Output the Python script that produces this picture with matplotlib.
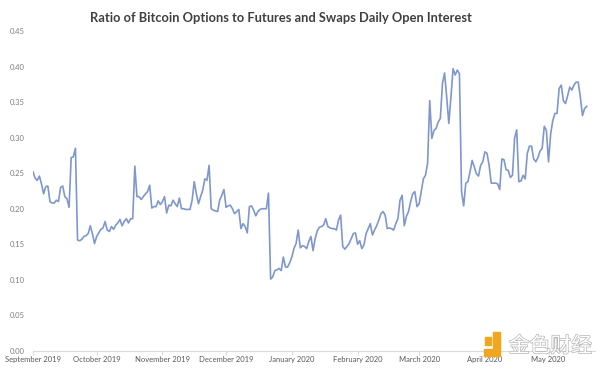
import matplotlib
matplotlib.use("Agg")
import matplotlib.pyplot as plt
import matplotlib.dates as mdates
import matplotlib.patheffects as pe
from matplotlib.patches import Rectangle, Polygon
import pandas as pd

# daily ratio (Sep 1 2019 onwards)
ratio_sep_nov = [
    0.252, 0.243, 0.240, 0.246, 0.235, 0.221, 0.231, 0.232, 0.210, 0.208,
    0.208, 0.212, 0.210, 0.230, 0.232, 0.217, 0.214, 0.202, 0.272, 0.273,
    0.285, 0.156, 0.155, 0.157, 0.161, 0.162, 0.165, 0.176, 0.165, 0.151,
    0.161, 0.166, 0.171, 0.173, 0.182, 0.170, 0.168, 0.175, 0.171, 0.177,
    0.180, 0.185, 0.176, 0.182, 0.186, 0.180, 0.186, 0.186, 0.260, 0.217,
    0.217, 0.213, 0.217, 0.221, 0.224, 0.233, 0.201, 0.203, 0.203, 0.211,
    0.206, 0.210, 0.217, 0.194, 0.205, 0.204, 0.212, 0.207, 0.203, 0.215,
    0.200, 0.200, 0.199, 0.199, 0.199, 0.212, 0.238, 0.221, 0.207,
]
ratio_nov_feb = [
    0.217, 0.226, 0.242, 0.240, 0.261, 0.200, 0.198, 0.197, 0.196, 0.212,
    0.219, 0.227, 0.202, 0.204, 0.205, 0.200, 0.193, 0.196, 0.199, 0.172,
    0.179, 0.175, 0.166, 0.203, 0.204, 0.198, 0.190, 0.196, 0.199, 0.200,
    0.200, 0.200, 0.222, 0.101, 0.104, 0.113, 0.114, 0.116, 0.113, 0.132,
    0.118, 0.118, 0.124, 0.132, 0.144, 0.151, 0.170, 0.145, 0.148, 0.147,
    0.144, 0.154, 0.161, 0.141, 0.158, 0.169, 0.174, 0.175, 0.177, 0.186,
    0.175, 0.173, 0.172, 0.172, 0.170, 0.184, 0.191, 0.147, 0.143, 0.147,
    0.151, 0.158, 0.165, 0.166, 0.150, 0.155, 0.144, 0.149, 0.165, 0.172,
    0.179, 0.163, 0.170, 0.176, 0.184, 0.193, 0.196, 0.191, 0.172, 0.173,
    0.172, 0.170, 0.179,
]
ratio_feb_may = [
    0.186, 0.212, 0.219, 0.176, 0.189, 0.196, 0.210, 0.221, 0.224, 0.203,
    0.207, 0.224, 0.242, 0.247, 0.264, 0.352, 0.299, 0.310, 0.313, 0.322,
    0.327, 0.376, 0.391, 0.357, 0.320, 0.357, 0.397, 0.388, 0.395, 0.390,
    0.224, 0.204, 0.236, 0.238, 0.252, 0.268, 0.259, 0.249, 0.246, 0.261,
    0.266, 0.280, 0.278, 0.261, 0.236, 0.236, 0.236, 0.235, 0.227, 0.270,
    0.269, 0.255, 0.254, 0.244, 0.247, 0.299, 0.311, 0.238, 0.239, 0.247,
    0.242, 0.278, 0.288, 0.288, 0.270, 0.266, 0.272, 0.281, 0.285, 0.316,
    0.310, 0.266, 0.305, 0.324, 0.334, 0.334, 0.369, 0.374, 0.352, 0.348,
    0.359, 0.371, 0.367, 0.374, 0.378, 0.378, 0.357, 0.331, 0.341, 0.344,
]
ratio = ratio_sep_nov + ratio_nov_feb + ratio_feb_may
dates = pd.date_range("2019-09-01", periods=len(ratio), freq="D")

y_ticks = [0.00, 0.05, 0.10, 0.15, 0.20, 0.25, 0.30, 0.35, 0.40, 0.45]
title = "Ratio of Bitcoin Options to Futures and Swaps Daily Open Interest"

plt.rcParams["font.family"] = ["Lato", "DejaVu Sans"]

fig = plt.figure(figsize=(6, 3.69), dpi=100)
ax = fig.add_axes([0.055, 0.049, 0.937, 0.867])

ax.plot(dates, ratio, color="#7F97CB", lw=1.2)

ax.set_ylim(0, 0.45)
ax.set_xlim(pd.Timestamp("2019-09-01"), pd.Timestamp("2020-05-23"))
ax.set_yticks(y_ticks)
ax.set_yticklabels([f"{v:.2f}" for v in y_ticks])
ax.xaxis.set_major_locator(mdates.MonthLocator())
ax.xaxis.set_major_formatter(mdates.DateFormatter("%B %Y"))

for s in ["top", "right", "left"]:
    ax.spines[s].set_visible(False)
ax.spines["bottom"].set_color("#d9d9d9")
ax.spines["bottom"].set_linewidth(0.8)
ax.tick_params(axis="y", length=0, labelsize=5.5, labelcolor="#7f7f7f", pad=6)
ax.tick_params(axis="x", length=3, color="#d9d9d9", labelsize=5.5,
               labelcolor="#595959", pad=1)

fig.text(0.468, 0.952, title, ha="center", va="center", fontsize=9.3,
         fontweight="bold", color="#404040")

# watermark
fig.text(0.848, 0.062, "金色财经", fontsize=15, color="white",
         family=["Noto Sans CJK SC"], ha="left", va="center",
         path_effects=[pe.withStroke(linewidth=1.0, foreground="#b5b5b5")])
fig.patches.append(Rectangle((0.808, 0.066), 0.011, 0.02, color="#F2A51F",
                             transform=fig.transFigure))
fig.patches.append(Polygon([(0.822, 0.1), (0.834, 0.1), (0.834, 0.035),
                            (0.806, 0.035), (0.806, 0.055), (0.822, 0.055)],
                           closed=True, color="#F2A51F",
                           transform=fig.transFigure))

fig.savefig("out.png", dpi=100)
